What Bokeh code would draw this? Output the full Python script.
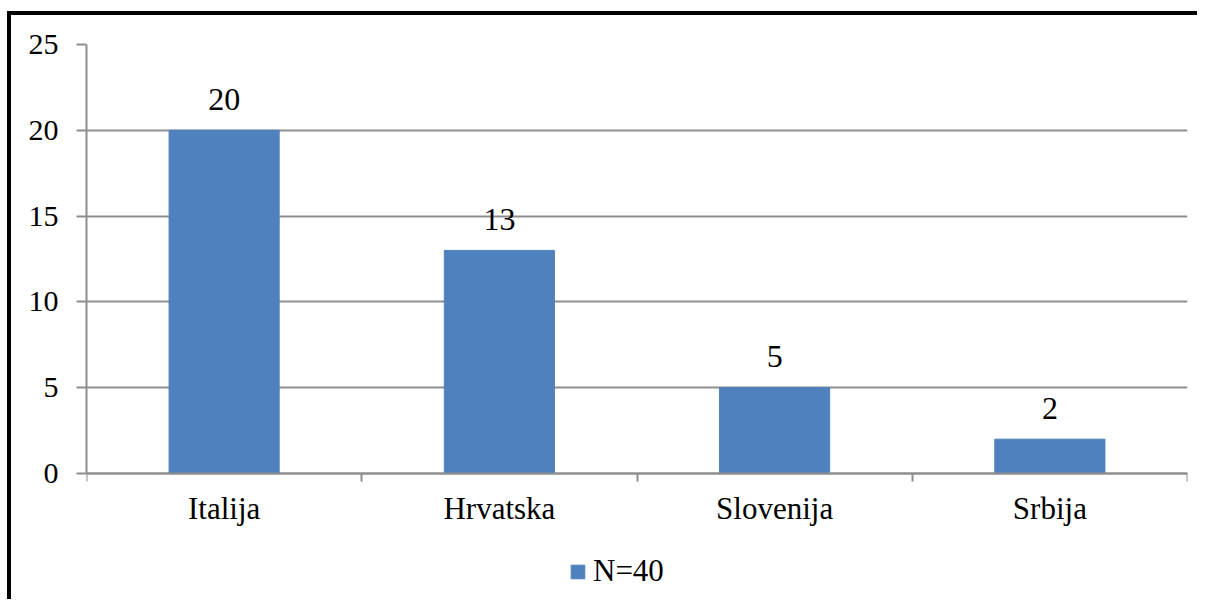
from bokeh.plotting import figure
from bokeh.models import FixedTicker, Legend, LegendItem, ColumnDataSource, Range1d
from bokeh.core.properties import value
from bokeh.embed import file_html
from bokeh.resources import INLINE

categories = ["Italija", "Hrvatska", "Slovenija", "Srbija"]
counts = [20, 13, 5, 2]
series_name = "N=40"
y_ticks = [0, 5, 10, 15, 20, 25]

FONT = "Liberation Serif"
GRID = "#8E8E8E"
BAR = "#4F81BD"

xs = [i + 0.5 for i in range(len(categories))]
src = ColumnDataSource(dict(x=xs, top=counts, label=[str(c) for c in counts]))

p = figure(width=1190, height=588, output_backend="svg", toolbar_location=None,
           x_range=Range1d(0, len(categories)), y_range=Range1d(-7.58, 25),
           min_border_left=75, min_border_right=14, min_border_top=29, min_border_bottom=0,
           styles={"border-left": "4px solid black", "border-top": "4px solid black",
                   "margin-top": "11px", "margin-left": "7px"})
p.outline_line_color = None
p.background_fill_color = "white"
p.border_fill_color = "white"

r = p.vbar(x="x", top="top", width=0.4, color=BAR, source=src)
p.text(x="x", y="top", text="label", source=src, y_offset=-31,
       text_align="center", text_baseline="alphabetic",
       text_font=value(FONT), text_font_size="32px", text_color="black")

# y axis
p.yaxis.ticker = FixedTicker(ticks=y_ticks)
p.yaxis.bounds = (0, 25)
p.yaxis.axis_line_color = GRID
p.yaxis.axis_line_width = 2
p.yaxis.major_tick_line_color = GRID
p.yaxis.major_tick_line_width = 2
p.yaxis.major_tick_in = 0
p.yaxis.major_tick_out = 10
p.yaxis.minor_tick_line_color = None
p.yaxis.major_label_standoff = 18
p.yaxis.major_label_text_font = FONT
p.yaxis.major_label_text_font_size = "30px"
p.yaxis.major_label_text_color = "black"

# x axis (drawn at y = 0 inside the extended frame)
p.xaxis.fixed_location = 0
p.xaxis.ticker = FixedTicker(ticks=xs, minor_ticks=list(range(len(categories) + 1)))
p.xaxis.major_label_overrides = {x: c for x, c in zip(xs, categories)}
p.xaxis.axis_line_color = GRID
p.xaxis.axis_line_width = 2
p.xaxis.major_tick_line_color = None
p.xaxis.minor_tick_line_color = GRID
p.xaxis.minor_tick_line_width = 2
p.xaxis.minor_tick_in = 0
p.xaxis.minor_tick_out = 8
p.xaxis.major_label_standoff = 10
p.xaxis.major_label_text_font = FONT
p.xaxis.major_label_text_font_size = "31px"
p.xaxis.major_label_text_color = "black"

p.xgrid.grid_line_color = None
p.ygrid.ticker = FixedTicker(ticks=y_ticks)
p.ygrid.grid_line_color = GRID
p.ygrid.grid_line_width = 2

legend = Legend(items=[LegendItem(label=series_name, renderers=[r])],
                location=(483, 14), orientation="horizontal",
                glyph_width=17, glyph_height=17, label_standoff=7,
                padding=0, margin=0, border_line_color=None,
                background_fill_alpha=0,
                label_text_font=FONT, label_text_font_size="31px",
                label_text_color="black")
p.add_layout(legend)

open("out.html", "w").write(file_html(p, INLINE))
